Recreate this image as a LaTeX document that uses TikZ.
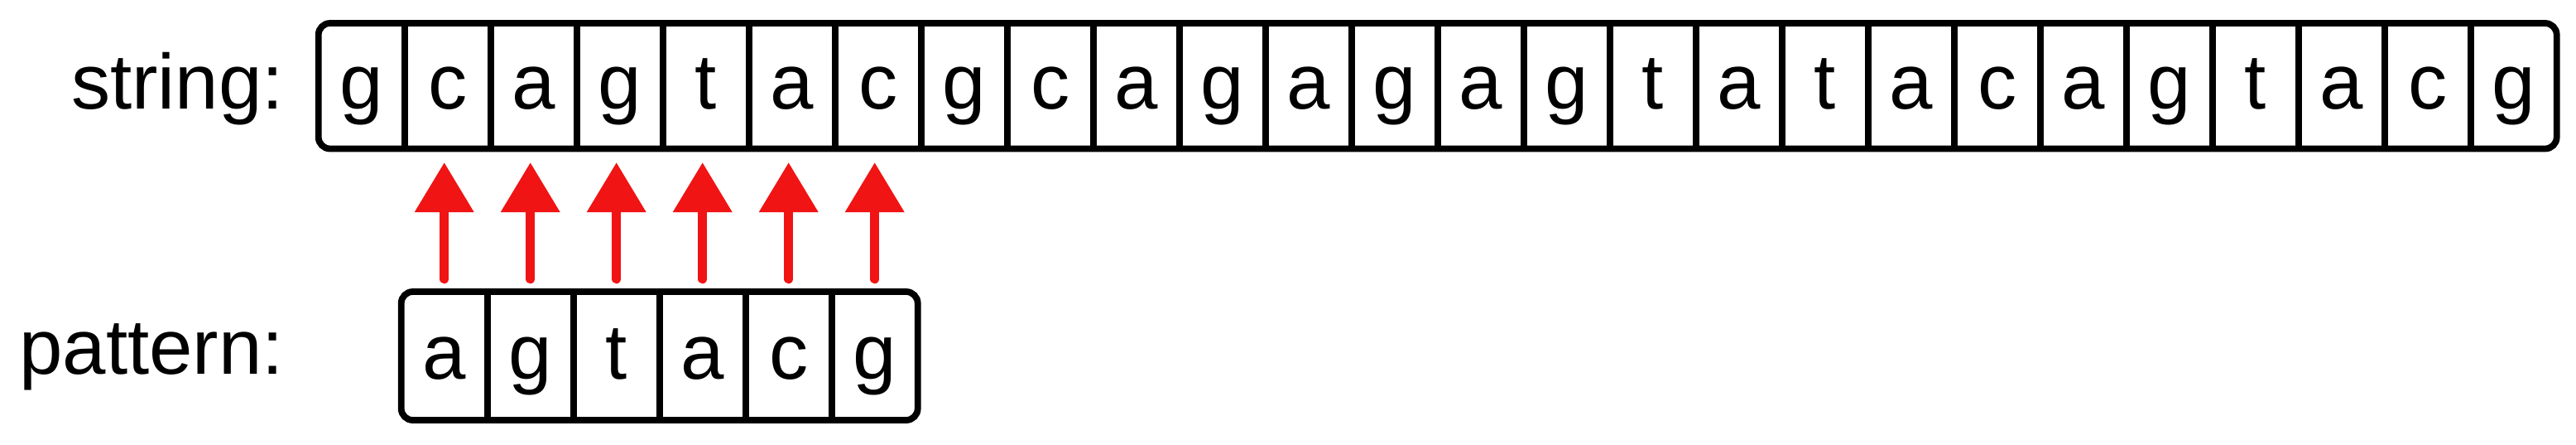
\documentclass[tikz,border=0pt]{standalone}
\usepackage{fontspec}
\setmainfont{Liberation Sans}
\usepackage{tikz}
\definecolor{Matchred}{HTML}{F01414}
\usetikzlibrary{positioning, fit, arrows.meta}
\tikzstyle{cell} = [
    rectangle,
    minimum width=1.04cm,
    minimum height=1.515cm,
    text height=0.76cm,
    text depth=0.2cm,
    inner sep=0pt,
    outer sep=0pt,
    font=\fontsize{26.8pt}{32pt}\selectfont
]
\tikzstyle{pcell} = [
    minimum height=1.55cm
]
\tikzstyle{box} = [
    rectangle, rounded corners=0.14cm,
    draw=black,
    line width=0.078cm,
    inner sep=0pt
]
\tikzstyle{divider} = [
    draw=black,
    line width=0.078cm
]
\tikzstyle{tag} = [
    inner sep=0pt,
    outer sep=0pt,
    font=\fontsize{26.8pt}{32pt}\selectfont
]
\tikzstyle{match} = [
    draw=Matchred,
    line width=0.115cm,
    line cap=round,
    -{Triangle[width=0.687cm, length=0.6cm]},
    shorten <=0.155cm,
    shorten >=0.165cm
]

\begin{document}
\begin{tikzpicture}[node distance=1.04cm]
    \useasboundingbox (0,0) rectangle (31.12,5.36);

    % string cells
    \node (s1) [cell] at (4.367,4.3225) {g};
    \foreach \letter [count=\i from 2] in {c,a,g,t,a,c,g,c,a,g,a,g,a,g,t,a,t,a,c,a,g,t,a,c,g} {
        \pgfmathtruncatemacro{\j}{\i-1}
        \node (s\i) [cell, right of=s\j] {\letter};
    }

    % pattern cells
    \node (p1) [cell, pcell, node distance=3.2575cm, below of=s2, xshift=-0.04cm] {a};
    \foreach \letter [count=\i from 2] in {g,t,a,c,g} {
        \pgfmathtruncatemacro{\j}{\i-1}
        \node (p\i) [cell, pcell, right of=p\j] {\letter};
    }

    \node (stringbox)  [box, fit=(s1)(s26)] {};
    \node (patternbox) [box, fit=(p1)(p6)]  {};

    \foreach \i in {1,...,25} \draw [divider] (s\i.north east) -- (s\i.south east);
    \foreach \i in {1,...,5}  \draw [divider] (p\i.north east) -- (p\i.south east);

    \node (strlabel) [tag, base left=0.42cm of s1]                {string:};
    \node (patlabel) [tag, base left=1.42cm of p1, yshift=0.058cm] {pattern:};

    % matches
    \foreach \i in {1,...,6} {
        \pgfmathtruncatemacro{\k}{\i+1}
        \draw [match] (p\i.north) -- (p\i.north |- s\k.south);
    }

\end{tikzpicture}
\end{document}
